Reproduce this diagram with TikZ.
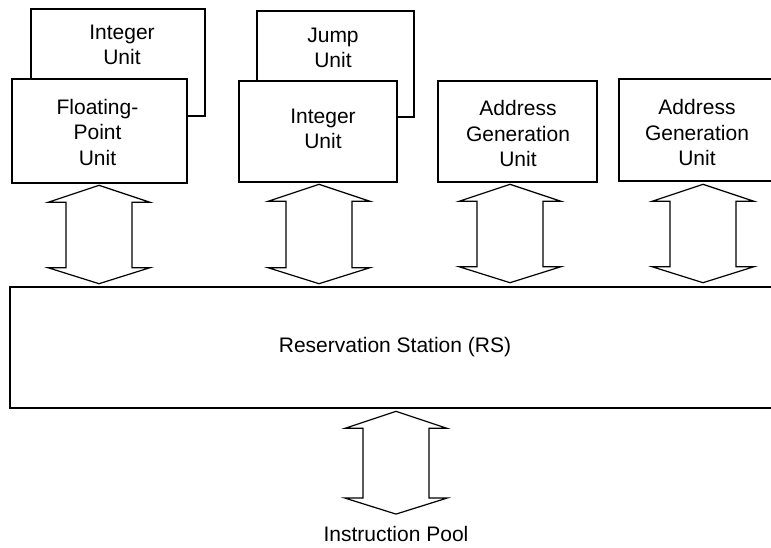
\documentclass[tikz,border=0pt]{standalone}
\usepackage{fontspec}
\setmainfont{Liberation Sans}
\usetikzlibrary{calc}
\tikzset{
  unitbox/.style={draw, line width=2.6pt, fill=white, inner sep=0pt, rectangle},
  lbl/.style={align=center, inner sep=0pt, font=\fontsize{21}{25.5}\selectfont},
  barrow/.style={draw, line width=1.2pt, fill=white, line join=miter},
}
\newcommand{\blockarrow}[2]{%
  \draw[barrow] (#1) -- ++(51,17) -- ++(-18,0) -- ($(#2)+(33,-16)$) -- ++(18,0)
    -- (#2) -- ++(-51,-16) -- ++(18,0) -- ($(#1)+(-33,17)$) -- ++(-18,0) -- cycle;}
\begin{document}
\begin{tikzpicture}[x=1pt,y=-1pt]
\clip (0,0) rectangle (771,548);
\fill[white] (0,0) rectangle (771,548);
% back boxes
\node[unitbox, minimum width=174pt, minimum height=107pt] (intback) at (118,62.5) {};
\node[lbl] (intbacktxt) at (122,45) {Integer\\Unit};
\node[unitbox, minimum width=157pt, minimum height=106pt] (jumpback) at (335.5,64) {};
\node[lbl] (jumptxt) at (333,48) {Jump\\Unit};
% front boxes
\node[unitbox, minimum width=175pt, minimum height=104pt] (fp) at (99.5,131) {};
\node[lbl] (fptxt) at (97.5,132) {Floating-\\Point\\Unit};
\node[unitbox, minimum width=158pt, minimum height=101pt] (intu) at (318,131.5) {};
\node[lbl] (intutxt) at (323,129) {Integer\\Unit};
\node[unitbox, minimum width=159pt, minimum height=101pt] (agu1) at (517.5,131.5) {};
\node[lbl] (agu1txt) at (518,133.5) {Address\\Generation\\Unit};
\node[unitbox, minimum width=159pt, minimum height=102pt] (agu2) at (698.5,130) {};
\node[lbl] (agu2txt) at (697,132.5) {Address\\Generation\\Unit};
% reservation station
\node[unitbox, minimum width=763pt, minimum height=121pt] (rs) at (391.5,347.5) {};
\node[lbl] (rstxt) at (395,347.5) {Reservation Station (RS)};
% instruction pool
\node[lbl] (pool) at (396,534) {Instruction Pool};
% block arrows
\blockarrow{$(fp.south)+(-0.5,1)$}{$(fp.south |- rs.north)+(-0.5,-2)$}
\blockarrow{$(intu.south)+(1,1)$}{$(intu.south |- rs.north)+(1,-2)$}
\blockarrow{$(agu1.south)+(-7.5,1)$}{$(agu1.south |- rs.north)+(-7.5,-3)$}
\blockarrow{$(agu2.south)+(4.5,2)$}{$(agu2.south |- rs.north)+(4.5,-3)$}
\blockarrow{$(rs.south -| pool.north)+(0,2)$}{$(pool.north)+(0,-12)$}
\end{tikzpicture}
\end{document}
